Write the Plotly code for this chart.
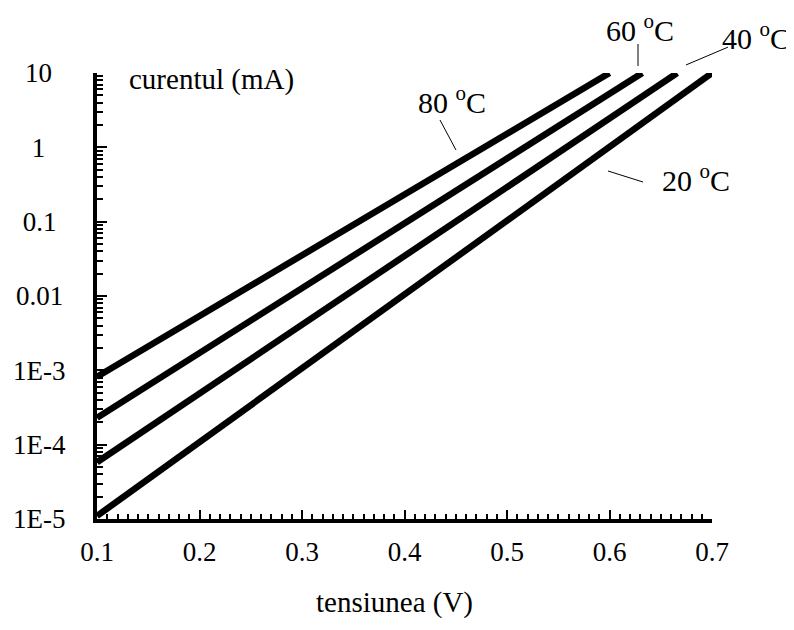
import plotly.graph_objects as go

# data
temps = ["80", "60", "40", "20"]
v_start = [0.1, 0.1, 0.1, 0.1]
v_end = [0.600, 0.632, 0.666, 0.700]
i_start = [8.2e-4, 2.3e-4, 5.8e-5, 1.1e-5]
i_end = [10, 10, 10, 10]

y_tickvals = [1e-5, 1e-4, 1e-3, 1e-2, 1e-1, 1, 10]
y_ticktext = ["1E-5", "1E-4", "1E-3", "0.01", "0.1", "1", "10"]
x_tickvals = [0.1, 0.2, 0.3, 0.4, 0.5, 0.6, 0.7]
x_ticktext = ["0.1", "0.2", "0.3", "0.4", "0.5", "0.6", "0.7"]

y_minor = [m * 10.0 ** e for e in range(-5, 1) for m in range(2, 10)]
x_minor = [round(0.1 + 0.01 * k, 2) for k in range(61) if k % 10 != 0]

FONT = "Liberation Serif, Times New Roman, serif"
FS = 29
TICK_FS = 27

# trailing padding so that the y tick labels look centred (as in the reference)
pad = {"10": "\u2007", "1": "\u2007\u00a0", "0.1": "\u00a0\u200a", "0.01": "\u200a"}
y_ticktext_padded = [s + pad.get(s, "") for s in y_ticktext]

fig = go.Figure()
for t, x0, x1, y0, y1 in zip(temps, v_start, v_end, i_start, i_end):
    fig.add_trace(go.Scatter(x=[x0, x1], y=[y0, y1], mode="lines",
                             line=dict(color="black", width=6.5), name=t + " C",
                             cliponaxis=False, showlegend=False))

# label positions and leader lines (paper coordinates)
labels = [
    ("80", 0.5772, 0.9395, (0.5577, 0.8946, 0.5837, 0.8274)),
    ("60", 0.8829, 1.1000, (0.8797, 1.0650, 0.8797, 1.0157)),
    ("40", 1.0715, 1.0830, (0.9577, 1.0180, 1.0260, 1.0580)),
    ("20", 0.9740, 0.7640, (0.8309, 0.7803, 0.8878, 0.7556)),
]
for t, lx, ly, (ax0, ay0, ax1, ay1) in labels:
    fig.add_annotation(x=lx, y=ly, xref="paper", yref="paper", text=t + " <sup>o</sup>C",
                       showarrow=False, font=dict(family=FONT, size=30, color="black"),
                       xanchor="center", yanchor="middle")
    fig.add_shape(type="line", x0=ax0, y0=ay0, x1=ax1, y1=ay1, xref="paper", yref="paper",
                  line=dict(color="black", width=1))

fig.add_annotation(x=0.0, y=1.0, xref="paper", yref="paper", text="curentul (mA)",
                   showarrow=False, xanchor="left", yanchor="middle", xshift=30, yshift=-6,
                   font=dict(family=FONT, size=FS, color="black"))

fig.add_annotation(x=0.5, y=-0.188, xref="paper", yref="paper", text="tensiunea (V)",
                   showarrow=False, xanchor="center", yanchor="middle", xshift=-10,
                   font=dict(family=FONT, size=FS, color="black"))

fig.update_layout(
    width=786, height=622,
    margin=dict(l=89, r=82, t=65, b=111),
    paper_bgcolor="white", plot_bgcolor="white",
    font=dict(family=FONT, size=TICK_FS, color="black"),
    xaxis=dict(range=[0.1, 0.7], tickvals=x_tickvals, ticktext=x_ticktext,
               ticks="inside", ticklen=9, tickwidth=2, tickcolor="black",
               showline=True, linewidth=4, linecolor="black", showgrid=False,
               zeroline=False, ticklabelstandoff=6, automargin=False,
               tickfont=dict(family=FONT, size=TICK_FS),
               minor=dict(tickvals=x_minor, ticks="inside", ticklen=5, tickwidth=2,
                          tickcolor="black", showgrid=False)),
    yaxis=dict(type="log", range=[-5, 1], tickvals=y_tickvals, ticktext=y_ticktext_padded,
               ticks="inside", ticklen=10, tickwidth=2, tickcolor="black",
               showline=True, linewidth=4, linecolor="black", showgrid=False,
               zeroline=False, ticklabelstandoff=22, automargin=False,
               tickfont=dict(family=FONT, size=TICK_FS),
               minor=dict(tickvals=y_minor, ticks="inside", ticklen=6, tickwidth=2,
                          tickcolor="black", showgrid=False)),
)

fig.write_html("out.html")
